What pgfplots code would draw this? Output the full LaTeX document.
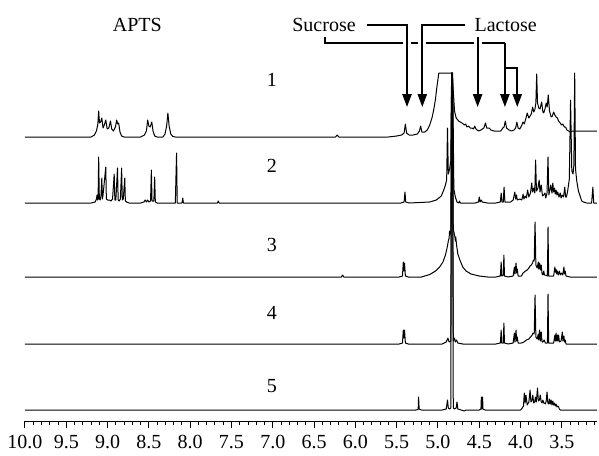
\documentclass[border=0pt]{standalone}
\usepackage{pgfplots}
\pgfplotsset{compat=1.18}
\usetikzlibrary{arrows.meta}
\usepackage{fontspec}
\setmainfont{Liberation Serif}

\begin{document}
\begin{tikzpicture}
\tikzset{spec/.style={black, line width=0.5pt, line join=round, mark=none},
  arr/.style={black, line width=0.9pt, -{Triangle[length=6.5pt,width=4.6pt]}},
  halo/.style={preaction={draw=white, line width=4pt, -}},
  brk/.style={black, line width=0.9pt}}
\begin{axis}[
  scale only axis,
  width=286pt, height=210.5pt,
  xmin=3.075, xmax=10, x dir=reverse,
  ymin=0, ymax=421,
  axis x line=bottom, axis y line=none,
  x axis line style={-, line width=0.5pt},
  xtick={3.5,4.0,...,10.0},
  minor xtick={3.1,3.2,...,9.9},
  tick align=outside,
  major tick length=3.5pt, minor tick length=2pt,
  tick style={black, line width=0.5pt},
  xticklabel style={/pgf/number format/.cd, fixed, fixed zerofill, precision=1, assume math mode=true},
  ticklabel style={font=\fontsize{10}{12}\selectfont},
  clip=false,
]
% spectrum 1
\addplot[spec] coordinates {
(10.0,284) (9.20,284) (9.16,286) (9.135,290) (9.118,297) (9.108,310) (9.098,298) (9.085,299) (9.07,303) (9.055,293) (9.04,296) (9.022,301) (9.005,292) (8.985,293) (8.965,300) (8.95,292) (8.93,290) (8.905,294) (8.89,301) (8.878,297) (8.866,298) (8.85,289) (8.83,285) (8.80,284)
(8.60,284) (8.555,286) (8.53,290) (8.515,301) (8.50,295) (8.485,294) (8.465,299) (8.45,290) (8.43,285) (8.40,284)
(8.33,284) (8.305,287) (8.285,295) (8.27,308) (8.255,295) (8.235,287) (8.21,284.5) (8.18,284)
(6.24,284) (6.22,286) (6.20,284)
(5.60,284) (5.50,285) (5.44,286) (5.41,288) (5.395,297) (5.38,288) (5.35,286) (5.30,286) (5.25,287) (5.225,290) (5.21,295) (5.195,289) (5.16,289) (5.13,291) (5.10,296) (5.07,304) (5.05,312) (5.03,322) (5.015,333) (5.00,342) (4.99,348)
(4.83,348) (4.815,330) (4.80,310) (4.78,303) (4.75,300) (4.71,298) (4.68,296) (4.665,297) (4.65,294) (4.63,295) (4.61,293) (4.59,293) (4.57,292) (4.555,295) (4.54,292) (4.51,290) (4.48,291) (4.445,293) (4.425,298) (4.41,293) (4.38,293) (4.36,291) (4.32,290) (4.28,290) (4.24,290) (4.215,293) (4.20,294) (4.185,300) (4.17,293) (4.14,291) (4.11,290) (4.08,291) (4.06,293) (4.045,299) (4.03,293) (4.01,292) (3.99,295) (3.97,299) (3.955,297) (3.935,303) (3.92,308) (3.90,303) (3.885,305) (3.87,307) (3.855,314) (3.84,309) (3.828,311) (3.815,318) (3.805,347) (3.795,318) (3.78,313) (3.765,312) (3.745,319) (3.73,309) (3.72,308) (3.705,312) (3.69,318) (3.678,314) (3.665,326) (3.65,310) (3.63,304) (3.615,305) (3.60,309) (3.585,306) (3.57,304) (3.555,303) (3.54,300) (3.52,298) (3.505,296) (3.49,297) (3.47,294) (3.455,294) (3.44,291) (3.42,290) (3.40,289) (3.37,290) (3.30,290) (3.20,290) (3.075,290)
};
% spectrum 2
\addplot[spec] coordinates {
(10.0,218) (9.20,218) (9.15,219) (9.135,222) (9.128,226) (9.12,221) (9.115,222) (9.108,264) (9.10,222) (9.09,221) (9.08,225) (9.07,243) (9.063,222) (9.055,226) (9.022,254) (9.015,222) (9.00,221) (8.98,221) (8.96,220) (8.94,222) (8.92,247) (8.912,221) (8.90,221) (8.88,253) (8.872,221) (8.86,220) (8.845,222) (8.83,253) (8.822,221) (8.81,222) (8.792,243) (8.785,220) (8.77,219) (8.74,218)
(8.60,218) (8.56,219) (8.545,221) (8.53,219) (8.515,221) (8.50,219) (8.48,220) (8.47,251) (8.462,220) (8.44,220) (8.43,244) (8.422,219) (8.40,218)
(8.18,218) (8.165,268) (8.157,218) (8.10,218) (8.09,223) (8.082,218) (7.67,218) (7.66,220) (7.65,218)
(5.45,218) (5.41,219) (5.40,229) (5.39,219) (5.35,218) (5.10,219) (5.02,221) (4.96,225) (4.93,231) (4.91,236) (4.895,241) (4.885,293) (4.875,247) (4.86,252) (4.845,260) (4.835,348) (4.822,348) (4.808,232) (4.79,224) (4.77,219) (4.75,218) (4.74,220) (4.73,218)
(4.55,218) (4.51,219) (4.50,224) (4.49,219) (4.475,221) (4.465,219) (4.40,218) (4.30,218) (4.245,219) (4.235,228) (4.225,219) (4.21,219) (4.20,234) (4.19,219) (4.12,219) (4.09,221) (4.07,229) (4.06,222) (4.05,226) (4.04,221) (4.01,222) (3.985,221) (3.97,227) (3.96,222) (3.945,225) (3.93,223) (3.915,231) (3.90,224) (3.88,228) (3.865,238) (3.855,229) (3.84,233) (3.828,228) (3.818,261) (3.808,230) (3.79,233) (3.775,241) (3.765,229) (3.75,236) (3.735,225) (3.72,226) (3.705,228) (3.695,223) (3.68,228) (3.668,264) (3.658,226) (3.645,231) (3.635,236) (3.62,228) (3.61,238) (3.60,229) (3.59,233) (3.58,227) (3.57,231) (3.56,226) (3.55,229) (3.535,224) (3.52,228) (3.51,223) (3.495,226) (3.48,224) (3.465,234) (3.455,224) (3.445,224) (3.43,230) (3.41,242) (3.395,321) (3.38,250) (3.365,247) (3.355,256) (3.345,348) (3.335,252) (3.32,240) (3.30,230) (3.28,225) (3.26,220) (3.24,219) (3.20,218) (3.14,218) (3.125,234) (3.115,218) (3.075,218)
};
% spectrum 3
\addplot[spec] coordinates {
(10.0,144) (6.17,144) (6.155,146) (6.14,144) (5.47,144) (5.43,145) (5.42,159) (5.412,150) (5.405,158) (5.395,145) (5.36,144) (5.20,144) (5.10,146.5) (5.03,150) (4.98,154) (4.94,159) (4.91,166) (4.89,173) (4.875,180) (4.865,183) (4.86,190) (4.855,186) (4.845,190) (4.835,348) (4.825,348) (4.815,192) (4.80,186) (4.795,184) (4.79,180) (4.785,184) (4.775,176) (4.76,167) (4.73,160) (4.70,154) (4.66,150) (4.60,147) (4.50,145) (4.40,144) (4.30,144) (4.245,145) (4.235,159) (4.228,145) (4.21,146) (4.202,166) (4.195,145) (4.15,144) (4.09,145) (4.075,154) (4.068,147) (4.055,158) (4.048,148) (4.04,152) (4.03,145) (3.99,145) (3.97,148) (3.94,150) (3.92,151) (3.90,153) (3.885,155) (3.87,156) (3.855,158) (3.845,161) (3.835,160) (3.825,199) (3.815,156) (3.80,153) (3.785,159) (3.78,152) (3.77,158) (3.76,151) (3.75,156) (3.74,147) (3.73,146) (3.72,150) (3.71,146) (3.70,146) (3.675,145) (3.668,194) (3.66,145) (3.64,145) (3.60,145) (3.585,154) (3.58,149) (3.575,152) (3.57,148) (3.565,151) (3.56,147) (3.555,150) (3.545,146) (3.53,150) (3.52,146) (3.505,148) (3.49,146) (3.475,154) (3.47,147) (3.46,150) (3.45,145) (3.40,144) (3.075,144)
};
% spectrum 4
\addplot[spec] coordinates {
(10.0,77) (5.47,77) (5.43,78) (5.42,91) (5.412,83) (5.405,91) (5.395,78) (5.36,77) (4.95,77) (4.90,79) (4.88,83) (4.87,80) (4.86,79) (4.845,80) (4.835,348) (4.825,348) (4.815,80) (4.80,83) (4.79,79) (4.775,81) (4.76,78) (4.70,77) (4.30,77) (4.245,78) (4.235,91) (4.228,78) (4.21,78) (4.202,98) (4.195,78) (4.15,77) (4.09,78) (4.075,88) (4.068,79) (4.055,91) (4.048,80) (4.04,84) (4.03,78) (3.99,78) (3.96,79) (3.93,81) (3.90,82) (3.88,84) (3.86,86) (3.85,88) (3.835,87) (3.825,126) (3.815,84) (3.80,82) (3.785,87) (3.78,81) (3.77,91) (3.76,80) (3.75,89) (3.74,79) (3.73,79) (3.715,81) (3.70,78) (3.675,78) (3.668,127) (3.66,78) (3.64,78) (3.60,78) (3.585,86) (3.578,80) (3.57,88) (3.563,80) (3.555,86) (3.548,80) (3.54,86) (3.53,79) (3.51,80) (3.495,89) (3.488,80) (3.475,85) (3.468,79) (3.46,81) (3.45,77) (3.075,77)
};
% spectrum 5
\addplot[spec] coordinates {
(10.0,11) (5.27,11) (5.24,11.5) (5.235,24) (5.228,12) (5.20,11) (4.95,11) (4.90,12) (4.885,21) (4.875,13) (4.86,12) (4.845,13) (4.835,348) (4.825,348) (4.815,13) (4.80,12) (4.78,13) (4.77,19) (4.76,12) (4.72,11) (4.68,10) (4.66,11) (4.50,11) (4.48,12) (4.475,24) (4.47,12) (4.46,24) (4.455,12) (4.43,11) (4.00,11) (3.98,13) (3.965,15) (3.955,28) (3.945,18) (3.935,26) (3.92,16) (3.90,19) (3.885,31) (3.875,19) (3.862,21) (3.852,26) (3.842,18) (3.83,19) (3.82,24) (3.81,19) (3.795,33) (3.785,20) (3.772,21) (3.762,26) (3.75,19) (3.74,18) (3.73,21) (3.72,18) (3.71,18) (3.70,17) (3.69,20) (3.68,29) (3.67,18) (3.66,17) (3.65,22) (3.64,17) (3.63,21) (3.62,16) (3.61,20) (3.60,16) (3.59,18) (3.58,15) (3.57,17) (3.56,14) (3.545,15) (3.53,12) (3.52,11) (3.40,11) (3.075,11)
};
% labels
\node[font=\fontsize{10}{12}\selectfont] at (axis cs:7.01,341) {1};
\node[font=\fontsize{10}{12}\selectfont] at (axis cs:7.01,255) {2};
\node[font=\fontsize{10}{12}\selectfont] at (axis cs:7.01,176) {3};
\node[font=\fontsize{10}{12}\selectfont] at (axis cs:7.01,108) {4};
\node[font=\fontsize{10}{12}\selectfont] at (axis cs:7.01,35) {5};
\node[font=\fontsize{10}{12}\selectfont] at (axis cs:8.64,396) {APTS};
\node[font=\fontsize{10}{12}\selectfont] at (axis cs:6.38,396) {Sucrose};
\node[font=\fontsize{10}{12}\selectfont] at (axis cs:4.18,396) {Lactose};
% sucrose bracket, broken where the other arrows cross it
\draw[brk] (axis cs:6.37,384) -- (axis cs:6.37,378) -- (axis cs:4.19,378);
\draw[arr] (axis cs:4.19,378) -- (axis cs:4.19,314);
\draw[arr] (axis cs:4.19,353) -- (axis cs:4.04,353) -- (axis cs:4.04,314);
\draw[arr, halo] (axis cs:5.86,396) -- (axis cs:5.375,396) -- (axis cs:5.375,314);
\draw[arr, halo] (axis cs:4.67,396) -- (axis cs:5.19,396) -- (axis cs:5.19,314);
\draw[arr, halo] (axis cs:4.52,384) -- (axis cs:4.52,314);
\end{axis}
\path (current axis.south west) ++(-12.5pt,-17pt) rectangle ([xshift=1pt]current axis.north east);
\end{tikzpicture}
\end{document}
